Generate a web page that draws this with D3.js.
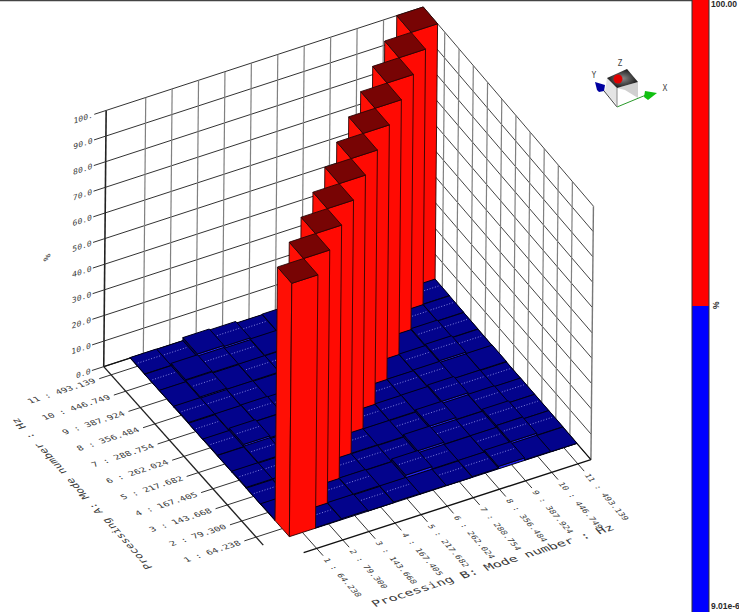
<!DOCTYPE html>
<html><head><meta charset="utf-8"><script src="https://d3js.org/d3.v7.min.js"></script>
<style>html,body{margin:0;background:#fff}svg{display:block}text{font-family:"DejaVu Sans Mono","Liberation Mono",monospace}</style></head>
<body><script>
// ---------- data ----------
const modeLabels=["1 : 64.238","2 : 79.300","3 : 143.668","4 : 167.405","5 : 217.682","6 : 262.024","7 : 288.754","8 : 356.484","9 : 387.924","10 : 446.749","11 : 493.139"];
const zTicks=[0,10,20,30,40,50,60,70,80,90,100];
const zTickLabels=["0.0","10.0","20.0","30.0","40.0","50.0","60.0","70.0","80.0","90.0","100."];
// row = Processing A mode, column = Processing B mode (percent, estimated)
const mac=[
[100,0.2,0.4,0.1,0.3,0.2,0.1,0.3,1.0,0.2,0.1],
[0.3,100,0.2,0.4,0.1,1.2,0.3,0.2,0.3,1.0,0.2],
[0.1,0.4,100,0.3,0.2,0.1,1.1,0.3,0.2,1.0,0.2],
[0.4,0.2,0.3,100,0.4,0.3,0.2,1.1,0.3,0.5,0.2],
[0.2,0.5,0.1,0.3,100,0.2,0.4,0.5,1.1,0.3,0.1],
[0.3,1.2,0.5,0.2,0.4,100,0.2,0.3,0.6,0.2,0.3],
[0.1,0.4,0.6,0.4,0.2,0.3,100,0.2,0.4,0.9,0.1],
[0.4,0.2,0.3,0.1,0.7,0.2,0.3,100,0.2,0.6,0.2],
[0.2,0.7,0.2,0.4,0.3,0.5,0.1,0.3,100,0.2,0.3],
[0.1,1.0,0.5,0.2,0.5,0.1,0.3,0.2,0.4,100,0.4],
[0.2,0.1,1.3,0.9,0.2,0.4,0.2,0.4,0.1,0.3,100]];
const dottedCells=["1101101110","0111011011","1011110111","1110101101","0110111011","1101011110","1011101011","1110110101","0101111011","1011011101","1101101111"];
const barTitle=["100.00","%","9.01e-6"];
// ---------- scales and camera ----------
const W=739,H=612;
const band=d3.scaleBand().domain(d3.range(11)).range([1,12]);
const zs=d3.scaleLinear().domain([0,100]).range([0,10]);
const cam=[26.04265,-14.59232,0.2352867,277.5812,-8.515121,-16.58239,-25.31063,561.1452,-0.0001186422,-0.001021684,-0.00002492374];
const proj=(X,Y,P)=>{const Z=zs(P),w=cam[8]*X+cam[9]*Y+cam[10]*Z+1;return [(cam[0]*X+cam[1]*Y+cam[2]*Z+cam[3])/w,(cam[4]*X+cam[5]*Y+cam[6]*Z+cam[7])/w];};
const svg=d3.select("body").append("svg").attr("width",W).attr("height",H).attr("viewBox",`0 0 ${W} ${H}`);
const line=d3.line();
const path3=pts=>line(pts.map(p=>proj(...p)));
const seg=(g,pts,col,w)=>g.append("path").attr("d",path3(pts)).attr("fill","none").attr("stroke",col).attr("stroke-width",w);
const xMin=0,xMax=12,tickOut=-0.45;
svg.append("line").attr("x1",0).attr("x2",692).attr("y1",0.5).attr("y2",0.5).attr("stroke","#444").attr("stroke-width",1.5);
// walls
const walls=svg.append("g");
zTicks.forEach(z=>{
  seg(walls,[[xMin,xMax,z],[xMax,xMax,z]],"#333",1);
  seg(walls,[[xMax,xMax,z],[xMax,xMin,z]],"#444",1);
});
band.domain().forEach(i=>{
  const c=band(i)+band.bandwidth()/2;
  seg(walls,[[c,xMax,0],[c,xMax,100]],"#808080",1.2);
  seg(walls,[[xMax,c,0],[xMax,c,100]],"#808080",1.2);
});
seg(walls,[[xMin,xMax,0],[xMin,xMax,100]],"#222",1.6);
seg(walls,[[xMax,xMin,0],[xMax,xMin,100]],"#777",1.4);
seg(walls,[[xMax,xMax,0],[xMax,xMax,100]],"#555",1.2);
seg(walls,[[xMin,xMax,0],[xMax,xMax,0]],"#111",1.2);
seg(walls,[[xMax,xMin,0],[xMax,xMax,0]],"#111",1.2);
zTicks.forEach(z=>seg(walls,[[tickOut,xMax,z],[xMin,xMax,z]],"#333",1));
// floor ticks and axis lines
const floor=svg.append("g");
band.domain().forEach(i=>{
  const c=band(i)+band.bandwidth()/2;
  seg(floor,[[tickOut,c,0],[1,c,0]],"#333",1);
  seg(floor,[[c,tickOut,0],[c,1,0]],"#333",1);
});
seg(floor,[[xMin,1,0],[xMin,xMax,0]],"#222",1.4);
seg(floor,[[1,xMin,0],[xMax,xMin,0]],"#111",1.4);
// bars, back to front
const cells=[];
mac.forEach((row,r)=>row.forEach((v,c)=>cells.push({r,c,v})));
cells.sort((a,b)=>(b.r+b.c)-(a.r+a.c));
const bars=svg.append("g").attr("stroke-linejoin","round");
cells.forEach(d=>{
  const x=band(d.c),y=band(d.r),s=band.bandwidth(),h=d.v,hot=d.v>=50;
  const edge=hot?"#2a0505":"#000018",sw=hot?0.9:1;
  const face=(pts,fill)=>bars.append("path").attr("d",path3(pts)+"Z").attr("fill",fill).attr("stroke",edge).attr("stroke-width",sw);
  face([[x,y,0],[x,y+s,0],[x,y+s,h],[x,y,h]],hot?"#ff0f05":"#00005a");
  face([[x,y,0],[x+s,y,0],[x+s,y,h],[x,y,h]],hot?"#ff0a03":"#2222f0");
  face([[x,y,h],[x+s,y,h],[x+s,y+s,h],[x,y+s,h]],hot?"#780404":"#03038c");
  if(!hot&&dottedCells[d.r][Math.min(d.c,9)]==="1"){
    bars.append("path").attr("d",path3([[x+0.08,y+0.62,h],[x+0.92,y+0.62,h]])).attr("fill","none")
      .attr("stroke","#b8b8ff").attr("stroke-width",0.7).attr("stroke-dasharray","1 1.8");
  }
});
// perspective text
function label(txt,p,dir,up,sx,sy,anchor,fs=10){
  const o=proj(...p),e=proj(p[0]+dir[0]*.05,p[1]+dir[1]*.05,p[2]+dir[2]*.05),u=proj(p[0]+up[0]*.05,p[1]+up[1]*.05,p[2]+up[2]*.05);
  const ex=e[0]-o[0],ey=e[1]-o[1],ux=u[0]-o[0],uy=u[1]-o[1],el=Math.hypot(ex,ey),ul=Math.hypot(ux,uy);
  svg.append("text").attr("transform",`matrix(${ex/el*sx} ${ey/el*sx} ${-ux/ul*sy} ${-uy/ul*sy} ${o[0]} ${o[1]})`)
    .attr("text-anchor",anchor).attr("dy","0.35em").attr("font-size",fs).attr("fill","#3a3a3a").text(txt);
}
const DX=[1,0,0],DY=[0,1,0],DZ=[0,0,1],NY=[0,-1,0],NX=[-1,0,0];
band.domain().forEach(i=>{
  const c=band(i)+band.bandwidth()/2;
  label(modeLabels[i],[-0.62,c,0],DX,DY,0.97,0.78,"end");
  label(modeLabels[i],[c,-0.62,0],NY,DX,0.85,0.78,"start");
});
zTicks.forEach((z,i)=>label(zTickLabels[i],[-0.5,xMax,z],DX,DZ,0.85,0.78,"end"));
label("%",[-2.2,xMax,50],DZ,NX,1.1,1,"middle");
label("Processing A: Mode number : Hz",[-4.0,6.3,0],DY,NX,1.12,1,"middle");
label("Processing B: Mode number : Hz",[6.3,-3.6,0],DX,DY,1.4,1.05,"middle");
// colour bar
const barY=d3.scaleLinear().domain([0,100]).range([612,0]);
const barSplit=50;
svg.append("rect").attr("x",692).attr("width",17).attr("y",barY(100)).attr("height",barY(barSplit)-barY(100)).attr("fill","#ff0000");
svg.append("rect").attr("x",692).attr("width",17).attr("y",barY(barSplit)).attr("height",barY(0)-barY(barSplit)).attr("fill","#0000ff");
svg.append("line").attr("x1",692).attr("x2",692).attr("y1",0).attr("y2",612).attr("stroke","#333");
svg.append("line").attr("x1",709).attr("x2",709).attr("y1",0).attr("y2",612).attr("stroke","#333");
const tb=(t,x,y,rot)=>svg.append("text").attr("transform",`translate(${x},${y})`+(rot?` rotate(${rot})`:"")).attr("font-size",8.5).attr("font-weight","bold").style("font-family","'Liberation Sans',sans-serif").attr("fill","#2a2a2a").text(t);
tb(barTitle[0],711,7);tb(barTitle[1],719,309,-90);tb(barTitle[2],711,609);
// orientation widget
const wg=svg.append("g");
const grad=svg.append("defs").append("radialGradient").attr("id","capG");
grad.append("stop").attr("offset","0").attr("stop-color","#8a8a8a");grad.append("stop").attr("offset","1").attr("stop-color","#1a1a1a");
const poly=(pts,fill)=>wg.append("polygon").attr("points",pts.join(" ")).attr("fill",fill);
poly([[607,78],[617,88],[617,105],[605,92]],"#e4e4e4");
poly([[617,88],[638,82],[638,98],[625,90]],"#d0d0d0");
poly([[607,78],[627,69],[638,82],[617,88]],"url(#capG)");
wg.append("line").attr("x1",617).attr("y1",107).attr("x2",600).attr("y2",86).attr("stroke","#444");
wg.append("line").attr("x1",617).attr("y1",107).attr("x2",646).attr("y2",95).attr("stroke","#2a9a2a");
wg.append("line").attr("x1",617).attr("y1",107).attr("x2",617).attr("y2",88).attr("stroke","#888");
poly([[595,82],[605,85],[604,91],[599,92],[597,90]],"#0000a0");
poly([[657,93],[645,91],[644,97],[648,100]],"#10c010");
wg.append("circle").attr("cx",618).attr("cy",79).attr("r",4.5).attr("fill","#e00000");
[["Z",620,66],["Y",594,78],["X",665,91]].forEach(t=>wg.append("text").attr("x",t[1]).attr("y",t[2]).attr("text-anchor","middle").attr("font-size",8).attr("fill","#444").text(t[0]));
</script></body></html>
